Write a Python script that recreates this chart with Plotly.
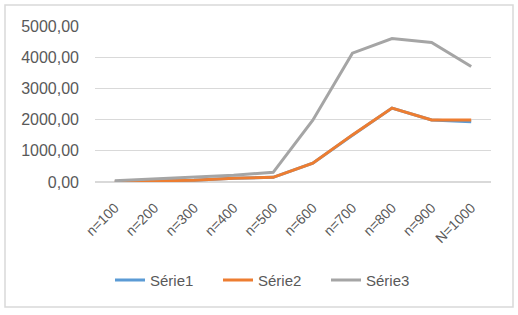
import plotly.graph_objects as go

categories = ["n=100", "n=200", "n=300", "n=400", "n=500", "n=600", "n=700", "n=800", "n=900", "N=1000"]
serie1 = [10, 30, 60, 120, 150, 600, 1500, 2370, 1990, 1930]
serie2 = [10, 30, 60, 120, 150, 600, 1510, 2370, 1990, 1990]
serie3 = [40, 100, 150, 220, 310, 1980, 4130, 4600, 4470, 3700]

names = ["Série1", "Série2", "Série3"]
colors = ["#5B9BD5", "#ED7D31", "#A5A5A5"]

fig = go.Figure()
for name, vals, col in zip(names, [serie1, serie2, serie3], colors):
    fig.add_trace(go.Scatter(x=categories, y=vals, name=name, mode="lines",
                             line=dict(color=col, width=3)))

fig.update_layout(
    width=518, height=315,
    margin=dict(l=95, r=27, t=26, b=133),
    paper_bgcolor="white", plot_bgcolor="white",
    separators=",.",
    font=dict(family="Liberation Sans, Arial, sans-serif", size=15, color="#595959"),
    showlegend=True,
    legend=dict(orientation="h", x=(272 - 95) / 396, xanchor="center",
                y=-0.63, yanchor="middle", font=dict(size=15, color="#595959"),
                entrywidth=63, entrywidthmode="pixels"),
    xaxis=dict(type="category", tickangle=-45, showgrid=False, showline=False,
               ticks="", ticklabelstandoff=14,
               tickfont=dict(size=14, color="#595959"), range=[-0.5, 9.5]),
    yaxis=dict(range=[0, 5000], dtick=1000, tickformat=".2f", showgrid=True,
               gridcolor="#D9D9D9", gridwidth=1, zeroline=True, zerolinecolor="#D9D9D9",
               showline=False, ticks="", ticklabelstandoff=15,
               tickfont=dict(size=16, color="#595959")),
    shapes=[dict(type="rect", xref="paper", yref="paper",
                 x0=-90/396, x1=1 + 22/396, y0=-125/156, y1=1 + 21/156,
                 line=dict(color="#D9D9D9", width=1.5))],
)

fig.write_html("out.html")
